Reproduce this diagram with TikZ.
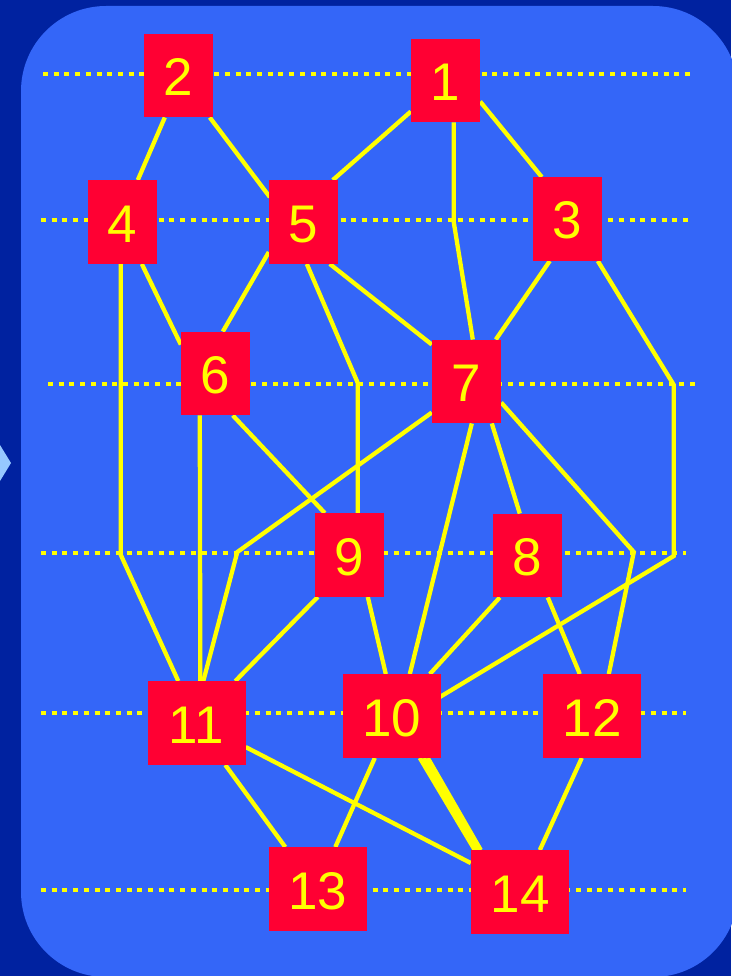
\documentclass[tikz,border=0pt]{standalone}
\usepackage{fontspec}
\setmainfont{Liberation Sans}
\usetikzlibrary{calc}
\definecolor{bgdark}{RGB}{0,34,160}
\definecolor{panel}{RGB}{52,102,248}
\definecolor{boxred}{RGB}{255,0,51}
\definecolor{lineyel}{RGB}{255,255,0}
\definecolor{chev}{RGB}{150,200,255}
\pgfdeclarelayer{background}
\pgfsetlayers{background,main}
\begin{document}
\begin{tikzpicture}[x=1pt,y=-1pt,
  vbox/.style={fill=boxred, inner sep=0pt, minimum height=83.5pt, text=lineyel,
    font=\fontsize{53}{60}\selectfont, text height=40pt, text depth=0pt},
  one/.style={vbox, minimum width=69pt},
  two/.style={vbox, minimum width=98pt},
  guide/.style={lineyel, line width=4.7pt, dash pattern=on 5pt off 5.7pt},
  link/.style={lineyel, line width=4.3pt, line join=miter}]
\useasboundingbox (0,0) rectangle (731,976);

% nodes
\node[one] (n1) at (445.5,80.5) {1};
\node[one] (n2) at (178.5,75.5) {2};
\node[one] (n3) at (567.5,219) {3};
\node[one] (n4) at (122.5,222) {4};
\node[one] (n5) at (303.5,222) {5};
\node[one] (n6) at (215.5,373.5) {6};
\node[one] (n7) at (466.5,381.5) {7};
\node[one] (n8) at (527.5,555.5) {8};
\node[one] (n9) at (349.5,555) {9};
\node[two] (n10) at (392,716) {10};
\node[two] (n11) at (196.5,723) {11};
\node[two] (n12) at (592,716) {12};
\node[two] (n13) at (317.5,889) {13};
\node[two] (n14) at (520,892) {14};

% guide line ends
\coordinate (g1a) at (43,74);  \coordinate (g1b) at (690,74);
\coordinate (g2a) at (41,220); \coordinate (g2b) at (688,220);
\coordinate (g3a) at (48,384); \coordinate (g3b) at (695,384);
\coordinate (g4a) at (41,553); \coordinate (g4b) at (686,553);
\coordinate (g5a) at (41,713); \coordinate (g5b) at (686,713);
\coordinate (g6a) at (41,890); \coordinate (g6b) at (686,890);

\begin{pgfonlayer}{background}
\fill[bgdark] (0,0) rectangle (731,976);
\fill[panel, rounded corners=85pt] (21,6) rectangle (738,977);
\fill[chev] (0,445) -- (11,463) -- (0,481) -- cycle;

\draw[guide] (g1a) -- (g1b);
\draw[guide] (g2a) -- (g2b);
\draw[guide] (g3a) -- (g3b);
\draw[guide] (g4a) -- (g4b);
\draw[guide] (g5a) -- (g5b);
\draw[guide] (g6a) -- (g6b);

% connectors
\draw[link] ($(n2.south west)+(21,0)$) -- ($(n4.north west)+(50,0)$);
\draw[link] ($(n2.south west)+(66,0)$) -- ($(n5.north west)+(1,17)$);
\draw[link] ($(n1.north west)+(0,73)$) -- ($(n5.north west)+(64,0)$);
\draw[link] ($(n1.north east)+(0,63)$) -- ($(n3.north west)+(9,0)$);
\draw[link] ($(n1.south west)+(43,0)$) -- ($(n1.south west)+(43,100)$) -- ($(n7.north west)+(41,0)$);
\draw[link] ($(n4.south west)+(54,0)$) -- ($(n6.north west)+(0,13)$);
\draw[link] ($(n4.south west)+(33,0)$) -- ($(n4.south west)+(33,291)$) -- ($(n11.north west)+(31,0)$);
\draw[link] ($(n5.north west)+(0,72)$) -- ($(n6.north west)+(42,0)$);
\draw[link] ($(n5.south west)+(38,0)$) -- ($(n9.north west)+(43,-130)$) -- ($(n9.north west)+(43,0)$);
\draw[link] ($(n5.south west)+(61,0)$) -- ($(n7.north west)+(0,5)$);
\draw[link] ($(n3.south west)+(17,0)$) -- ($(n7.north west)+(64,0)$);
\draw[link] ($(n3.south west)+(65,0)$) -- ($(n3.south west)+(141,124)$) -- ($(n3.south west)+(141,295)$) -- ($(n10.north west)+(97,23)$);
\draw[link] ($(n6.south west)+(19,0)$) -- ($(n11.north west)+(53,0)$);
\draw[link] ($(n6.south west)+(52,0)$) -- ($(n9.north west)+(10,0)$);
\draw[link] ($(n7.north west)+(0,73)$) -- ($(n11.north west)+(90,-129)$) -- ($(n11.north west)+(56,0)$);
\draw[link] ($(n7.south west)+(40,0)$) -- ($(n10.north west)+(67,0)$);
\draw[link] ($(n7.south west)+(60,0)$) -- ($(n8.north west)+(27,0)$);
\draw[link] ($(n7.north east)+(0,63)$) -- ($(n12.north west)+(91,-122)$) -- ($(n12.north west)+(66,0)$);
\draw[link] ($(n9.south west)+(3,0)$) -- ($(n11.north west)+(88,0)$);
\draw[link] ($(n9.south west)+(53,0)$) -- ($(n10.north west)+(43,0)$);
\draw[link] ($(n8.south west)+(7,0)$) -- ($(n10.north west)+(87,0)$);
\draw[link] ($(n8.south west)+(55,0)$) -- ($(n12.north west)+(37,0)$);
\draw[link] ($(n11.south west)+(78,0)$) -- ($(n13.north west)+(17,0)$);
\draw[link] ($(n11.north east)+(0,66)$) -- ($(n14.north west)+(0,13)$);
\draw[link] ($(n10.south west)+(32,0)$) -- ($(n13.north west)+(67,0)$);
\draw[link] ($(n10.south west)+(77,0)$) -- ($(n14.north west)+(4,0)$);
\draw[link] ($(n10.south west)+(81,0)$) -- ($(n14.north west)+(7,0)$);
\draw[link] ($(n10.south west)+(85,0)$) -- ($(n14.north west)+(10,0)$);
\draw[link] ($(n12.south west)+(39,0)$) -- ($(n14.north west)+(69,0)$);
\end{pgfonlayer}
\end{tikzpicture}
\end{document}
